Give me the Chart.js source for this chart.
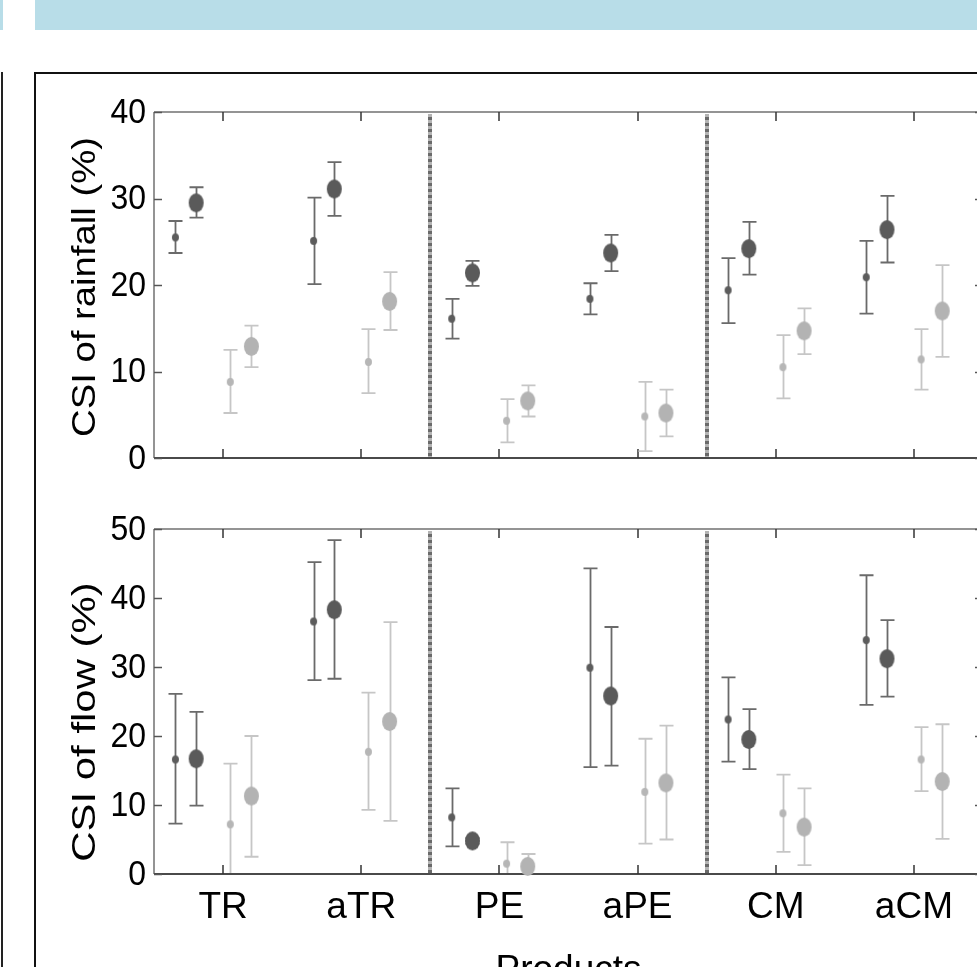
<!DOCTYPE html>
<html>
<head>
<meta charset="utf-8">
<title>CSI of rainfall and flow by product</title>
<script src="https://cdn.jsdelivr.net/npm/chart.js@4.4.1/dist/chart.umd.min.js"></script>
<style>
  html, body { margin: 0; padding: 0; background: #fff; overflow: hidden; }
  #page { position: relative; width: 977px; height: 967px; overflow: hidden; background: #fff; }
  .band { position: absolute; top: 0; height: 30px; background: #b8dde8; }
  .frame { position: absolute; left: 34px; top: 72px; width: 1100px; height: 1100px; border: 2px solid #111; box-sizing: border-box; }
  .edge { position: absolute; left: 1px; top: 72px; width: 2px; height: 1000px; background: #222; }
  canvas { position: absolute; }
</style>
</head>
<body>
<div id="page">
  <div class="band" style="left:0;width:3px"></div>
  <div class="band" style="left:35px;width:942px"></div>
  <div class="frame"></div>
  <div class="edge"></div>
  <canvas id="rainPanel" width="960" height="400" style="left:40px;top:80px"></canvas>
  <canvas id="flowPanel" width="960" height="490" style="left:40px;top:490px"></canvas>
</div>
<script>
// Products along the x axis, and where the dotted group separators fall
const categories = ['TR', 'aTR', 'PE', 'aPE', 'CM', 'aCM'];
const groupBreaks = [1.5, 3.5];
const rainTicks = [0, 10, 20, 30, 40];
const flowTicks = [0, 10, 20, 30, 40, 50];

// CSI of rainfall (%): central value and [low, high] error range per product
const rainDarkSmall = [25.5, 25.1, 16.1, 18.4, 19.4, 20.9];
const rainDarkSmallRange = [[23.7, 27.4], [20.1, 30.1], [13.8, 18.4], [16.6, 20.2], [15.6, 23.1], [16.7, 25.1]];
const rainDarkLarge = [29.5, 31.1, 21.4, 23.7, 24.2, 26.4];
const rainDarkLargeRange = [[27.8, 31.3], [28.0, 34.2], [19.9, 22.8], [21.6, 25.8], [21.2, 27.3], [22.6, 30.3]];
const rainLightSmall = [8.8, 11.1, 4.3, 4.8, 10.5, 11.4];
const rainLightSmallRange = [[5.2, 12.5], [7.5, 14.9], [1.8, 6.8], [0.8, 8.8], [6.9, 14.2], [7.9, 14.9]];
const rainLightLarge = [12.9, 18.1, 6.6, 5.2, 14.7, 17.0];
const rainLightLargeRange = [[10.5, 15.3], [14.8, 21.5], [4.8, 8.4], [2.5, 7.9], [12.0, 17.3], [11.7, 22.3]];

// CSI of flow (%): central value and [low, high] error range per product
const flowDarkSmall = [16.6, 36.6, 8.2, 29.9, 22.4, 33.9];
const flowDarkSmallRange = [[7.3, 26.1], [28.1, 45.2], [4.0, 12.4], [15.5, 44.3], [16.3, 28.5], [24.5, 43.3]];
const flowDarkLarge = [16.7, 38.3, 4.8, 25.8, 19.5, 31.2];
const flowDarkLargeRange = [[9.9, 23.5], [28.3, 48.4], [4.4, 5.2], [15.7, 35.8], [15.2, 23.9], [25.7, 36.8]];
const flowLightSmall = [7.2, 17.7, 1.5, 11.9, 8.8, 16.6];
const flowLightSmallRange = [[-1.6, 16.0], [9.3, 26.3], [-1.6, 4.6], [4.4, 19.6], [3.2, 14.4], [12.0, 21.3]];
const flowLightLarge = [11.3, 22.1, 1.1, 13.2, 6.8, 13.4];
const flowLightLargeRange = [[2.5, 20.0], [7.7, 36.5], [-0.8, 2.9], [5.0, 21.5], [1.3, 12.4], [5.1, 21.7]];

// Filled ellipse used as a point marker
function ellipseSprite(w, h, color) {
  const c = document.createElement('canvas');
  c.width = w + 2; c.height = h + 2;
  const g = c.getContext('2d');
  g.fillStyle = color;
  g.beginPath();
  g.ellipse(c.width / 2, c.height / 2, w / 2, h / 2, 0, 0, Math.PI * 2);
  g.fill();
  return c;
}

const styles = {
  darkSmall:  { offset: -0.345, sprite: ellipseSprite(7, 8, '#5c5c5c'),   err: '#6a6a6a' },
  darkLarge:  { offset: -0.195, sprite: ellipseSprite(15, 19, '#5a5a5a'), err: '#6a6a6a' },
  lightSmall: { offset: 0.052,  sprite: ellipseSprite(7, 8, '#b6b6b6'),   err: '#c6c6c6' },
  lightLarge: { offset: 0.205,  sprite: ellipseSprite(15, 19, '#b3b3b3'), err: '#c6c6c6' }
};

const TICK_FONT = '"Liberation Sans", Arial, sans-serif';
const LABEL_FONT = '"Liberation Sans Narrow", "Arial Narrow", "Liberation Sans", sans-serif';

function line(ctx, x1, y1, x2, y2) {
  ctx.beginPath(); ctx.moveTo(x1, y1); ctx.lineTo(x2, y2); ctx.stroke();
}

// Text drawn with a vertical stretch factor (sy) around its anchor point
function stretchedText(ctx, text, x, y, sy, align, baseline) {
  ctx.save();
  ctx.translate(x, y);
  ctx.scale(1, sy);
  ctx.textAlign = align;
  ctx.textBaseline = baseline;
  ctx.fillText(text, 0, 0);
  ctx.restore();
}

// Frame, inward ticks, group separators, error bars and text around each panel
const panelDecor = {
  id: 'panelDecor',
  beforeDatasetsDraw(chart, args, o) {
    const { ctx, chartArea: a, scales: { x, y } } = chart;
    ctx.save();

    // dotted separators between product groups
    groupBreaks.forEach(b => {
      const px = Math.round(x.getPixelForValue(b));
      ctx.lineWidth = 4;
      ctx.setLineDash([3, 3]);
      ctx.lineDashOffset = 0;
      ctx.strokeStyle = '#b4b4b4';
      line(ctx, px, a.top + 2, px, a.bottom - 1);
      ctx.lineDashOffset = 3;
      ctx.strokeStyle = '#6a6a6a';
      line(ctx, px, a.top + 2, px, a.bottom - 1);
    });
    ctx.setLineDash([]);

    // axes box
    ctx.strokeStyle = '#707070';
    ctx.lineWidth = 1.5;
    line(ctx, a.left, a.top, a.right, a.top);
    line(ctx, a.left, a.top, a.left, a.bottom);
    line(ctx, a.right, a.top, a.right, a.bottom);
    ctx.strokeStyle = '#4a4a4a';
    ctx.lineWidth = 2;
    line(ctx, a.left, a.bottom, a.right, a.bottom);

    // inward tick marks
    ctx.strokeStyle = '#333';
    ctx.lineWidth = 1.5;
    categories.forEach((c, i) => {
      const px = Math.round(x.getPixelForValue(i));
      line(ctx, px, a.top, px, a.top + 9);
      line(ctx, px, a.bottom, px, a.bottom - 9);
    });
    ctx.strokeStyle = '#555';
    o.ticks.forEach(v => {
      const py = Math.round(y.getPixelForValue(v)) + 0.5;
      line(ctx, a.left, py, a.left + 8, py);
      line(ctx, a.right, py, a.right - 8, py);
    });

    // error bars, clipped to the plot area
    ctx.beginPath();
    ctx.rect(a.left, a.top - 2, a.right - a.left, a.bottom - a.top + 1);
    ctx.clip();
    ctx.lineWidth = 1.8;
    chart.data.datasets.forEach(ds => {
      ctx.strokeStyle = ds.errColor;
      ds.data.forEach(p => {
        const px = Math.round(x.getPixelForValue(p.x)) + 0.5;
        const lo = y.getPixelForValue(p.lo);
        const hi = y.getPixelForValue(p.hi);
        ctx.beginPath();
        ctx.moveTo(px, lo); ctx.lineTo(px, hi);
        ctx.moveTo(px - 7, lo); ctx.lineTo(px + 7, lo);
        ctx.moveTo(px - 7, hi); ctx.lineTo(px + 7, hi);
        ctx.stroke();
      });
    });
    ctx.restore();
  },
  afterDraw(chart, args, o) {
    const { ctx, chartArea: a, scales: { x, y } } = chart;
    ctx.save();
    ctx.fillStyle = '#000';

    // y tick numbers
    ctx.font = '32px ' + TICK_FONT;
    o.ticks.forEach(v => {
      stretchedText(ctx, String(v), a.left - 8, y.getPixelForValue(v) + 1, 1.12, 'right', 'middle');
    });

    // y-axis title, rotated and stretched along its length
    ctx.save();
    ctx.translate(o.titleX, o.titleY);
    ctx.rotate(-Math.PI / 2);
    ctx.scale(o.titleStretch, 1);
    ctx.font = '33px ' + TICK_FONT;
    ctx.textAlign = 'center';
    ctx.textBaseline = 'alphabetic';
    ctx.fillText(o.title, 0, 0);
    ctx.restore();

    if (o.showCategories) {
      ctx.font = '37px ' + LABEL_FONT;
      ctx.textAlign = 'center';
      ctx.textBaseline = 'alphabetic';
      categories.forEach((c, i) => {
        ctx.fillText(c, x.getPixelForValue(i), o.categoryBaseline);
      });
      ctx.fillText('Products', (a.left + a.right) / 2, o.axisTitleBaseline);
    }
    ctx.restore();
  }
};

function series(values, ranges, style, label) {
  const s = styles[style];
  return {
    label: label,
    data: values.map((v, i) => ({ x: i + s.offset, y: v, lo: ranges[i][0], hi: ranges[i][1] })),
    pointStyle: s.sprite,
    pointRadius: 8,
    pointHoverRadius: 8,
    showLine: false,
    clip: false,
    errColor: s.err
  };
}

function makePanel(id, datasets, yMax, ticks, padTop, axisHeight, decor) {
  return new Chart(document.getElementById(id), {
    type: 'scatter',
    data: { datasets: datasets },
    options: {
      responsive: false,
      animation: false,
      devicePixelRatio: 1,
      events: [],
      layout: { padding: { top: padTop, right: 17, left: 0, bottom: 0 } },
      plugins: {
        legend: { display: false },
        tooltip: { enabled: false },
        panelDecor: Object.assign({ ticks: ticks }, decor)
      },
      scales: {
        x: {
          type: 'linear', min: -0.5, max: 5.5,
          grid: { display: false }, border: { display: false },
          ticks: { display: false },
          afterFit: s => { s.height = axisHeight; }
        },
        y: {
          type: 'linear', min: 0, max: yMax,
          afterBuildTicks: s => { s.ticks = ticks.map(v => ({ value: v })); },
          grid: { display: false }, border: { display: false },
          ticks: { display: false },
          afterFit: s => { s.width = 114; }
        }
      }
    },
    plugins: [panelDecor]
  });
}

makePanel('rainPanel', [
  series(rainDarkSmall, rainDarkSmallRange, 'darkSmall', 'Rainfall, dark small'),
  series(rainDarkLarge, rainDarkLargeRange, 'darkLarge', 'Rainfall, dark large'),
  series(rainLightSmall, rainLightSmallRange, 'lightSmall', 'Rainfall, light small'),
  series(rainLightLarge, rainLightLargeRange, 'lightLarge', 'Rainfall, light large')
], 40, rainTicks, 32, 22, {
  title: 'CSI of rainfall (%)', titleX: 55, titleY: 207, titleStretch: 1.16, showCategories: false
});

makePanel('flowPanel', [
  series(flowDarkSmall, flowDarkSmallRange, 'darkSmall', 'Flow, dark small'),
  series(flowDarkLarge, flowDarkLargeRange, 'darkLarge', 'Flow, dark large'),
  series(flowLightSmall, flowLightSmallRange, 'lightSmall', 'Flow, light small'),
  series(flowLightLarge, flowLightLargeRange, 'lightLarge', 'Flow, light large')
], 50, flowTicks, 39, 106, {
  title: 'CSI of flow (%)', titleX: 55, titleY: 232, titleStretch: 1.27, showCategories: true,
  categoryBaseline: 428, axisTitleBaseline: 491
});
</script>
</body>
</html>
